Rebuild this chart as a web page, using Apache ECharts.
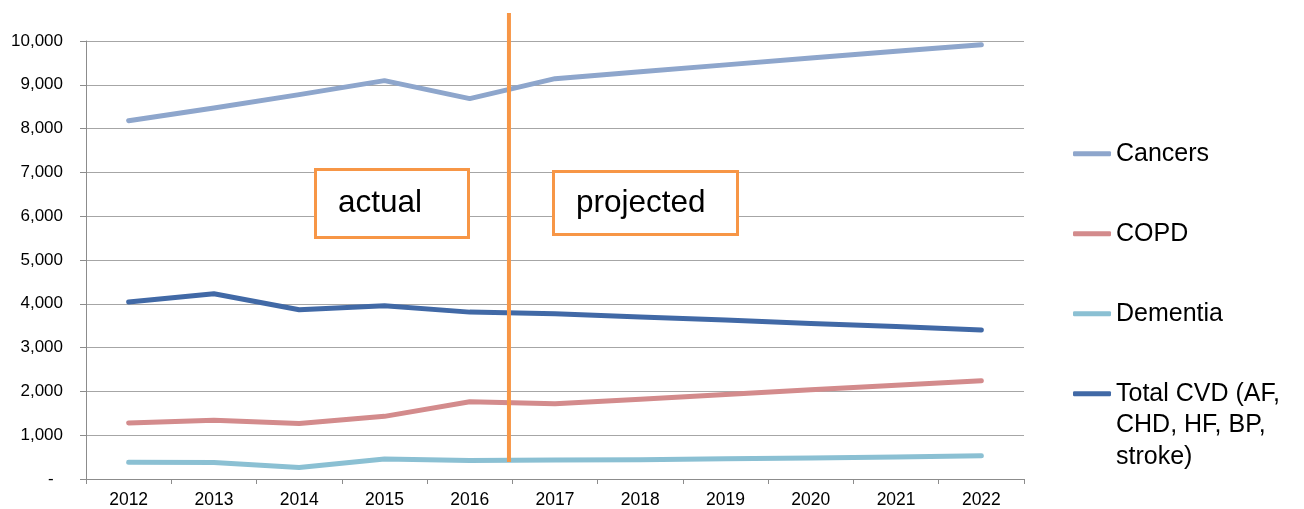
<!DOCTYPE html>
<html>
<head>
<meta charset="utf-8">
<script src="https://cdn.jsdelivr.net/npm/echarts@6/dist/echarts.min.js"></script>
<style>
  html, body { margin: 0; padding: 0; background: #fff; }
  #main { width: 1304px; height: 509px; }
</style>
</head>
<body>
<div id="main"></div>
<script>
var years = ['2012', '2013', '2014', '2015', '2016', '2017', '2018', '2019', '2020', '2021', '2022'];
var cancers = [8180, 8470, 8775, 9095, 8685, 9140, 9300, 9455, 9610, 9765, 9915];
var copd = [1280, 1340, 1265, 1430, 1765, 1720, 1820, 1930, 2040, 2140, 2245];
var dementia = [380, 375, 265, 455, 420, 435, 440, 460, 480, 505, 530];
var totalCvd = [4040, 4230, 3865, 3955, 3810, 3775, 3700, 3630, 3550, 3480, 3400];
var yTicks = [0, 1000, 2000, 3000, 4000, 5000, 6000, 7000, 8000, 9000, 10000];

// boundary between actual (2012-2016) and projected (2017-2022), in category units
var dividerX = 4.96;

var font = 'Liberation Sans, Arial, sans-serif';
var chartDom = document.getElementById('main');
var myChart = echarts.init(chartDom);
var option;

function lineSeries(name, data, color) {
  return {
    name: name,
    type: 'line',
    data: data,
    symbol: 'none',
    lineStyle: { color: color, width: 5, cap: 'round', join: 'round' },
    itemStyle: { color: color },
    z: 2
  };
}

var legendText = { fontFamily: font, fontSize: 25, color: '#000', lineHeight: 31.5 };

option = {
  animation: false,
  textStyle: { fontFamily: font },
  grid: { left: 86, right: 280, top: 41, bottom: 30 },
  legend: [
    {
      orient: 'vertical',
      left: 1068,
      top: 133,
      itemWidth: 38,
      itemHeight: 5,
      itemGap: 48.5,
      icon: 'roundRect',
      selectedMode: false,
      textStyle: legendText,
      data: ['Cancers', 'COPD', 'Dementia']
    },
    {
      orient: 'vertical',
      left: 1068,
      top: 310,
      itemWidth: 38,
      itemHeight: 5,
      icon: 'roundRect',
      selectedMode: false,
      textStyle: legendText,
      // two blank lines on top so the icon sits beside the first text line
      formatter: function () { return ' \n \nTotal CVD (AF,\nCHD, HF, BP,\nstroke)'; },
      data: ['Total CVD (AF, CHD, HF, BP, stroke)']
    }
  ],
  xAxis: [
    {
      type: 'category',
      data: years,
      boundaryGap: true,
      axisLine: { lineStyle: { color: '#8c8c8c', width: 1 } },
      axisTick: { show: true, length: 5, lineStyle: { color: '#8c8c8c' } },
      axisLabel: { color: '#000', fontSize: 17.5, margin: 12, fontFamily: font },
      splitLine: { show: false }
    },
    {
      type: 'value',
      min: 0,
      max: years.length,
      show: false
    }
  ],
  yAxis: {
    type: 'value',
    min: yTicks[0],
    max: yTicks[yTicks.length - 1],
    interval: 1000,
    axisLine: { show: true, lineStyle: { color: '#8c8c8c', width: 1 } },
    axisTick: { show: true, length: 6, lineStyle: { color: '#8c8c8c' } },
    axisLabel: {
      color: '#000',
      fontSize: 17,
      margin: 23,
      fontFamily: font,
      formatter: function (v) {
        return v === 0 ? '-  ' : v.toLocaleString('en-US');
      }
    },
    splitLine: { lineStyle: { color: '#a6a6a6', width: 1 } }
  },
  series: [
    lineSeries('Cancers', cancers, '#8ea6cc'),
    lineSeries('COPD', copd, '#d38b8c'),
    lineSeries('Dementia', dementia, '#8bc0d3'),
    lineSeries('Total CVD (AF, CHD, HF, BP, stroke)', totalCvd, '#4169a6')
  ]
};

option && myChart.setOption(option);

// annotations: divider line and the two labelled boxes
var divPx = myChart.convertToPixel({ xAxisIndex: 1 }, dividerX);
myChart.setOption({
  graphic: [
    {
      type: 'line',
      shape: { x1: divPx, y1: 13, x2: divPx, y2: 462 },
      style: { stroke: '#f79646', lineWidth: 4 },
      z: 100
    },
    {
      type: 'rect',
      shape: { x: 315.5, y: 169.5, width: 153, height: 68 },
      style: { fill: '#fff', stroke: '#f79646', lineWidth: 3 },
      z: 100
    },
    {
      type: 'text',
      x: 338, y: 203,
      style: { text: 'actual', font: '31.5px ' + font, fill: '#000', verticalAlign: 'middle' },
      z: 101
    },
    {
      type: 'rect',
      shape: { x: 553.5, y: 171.5, width: 184, height: 63 },
      style: { fill: '#fff', stroke: '#f79646', lineWidth: 3 },
      z: 100
    },
    {
      type: 'text',
      x: 576, y: 203,
      style: { text: 'projected', font: '31.5px ' + font, fill: '#000', verticalAlign: 'middle' },
      z: 101
    }
  ]
});
</script>
</body>
</html>
